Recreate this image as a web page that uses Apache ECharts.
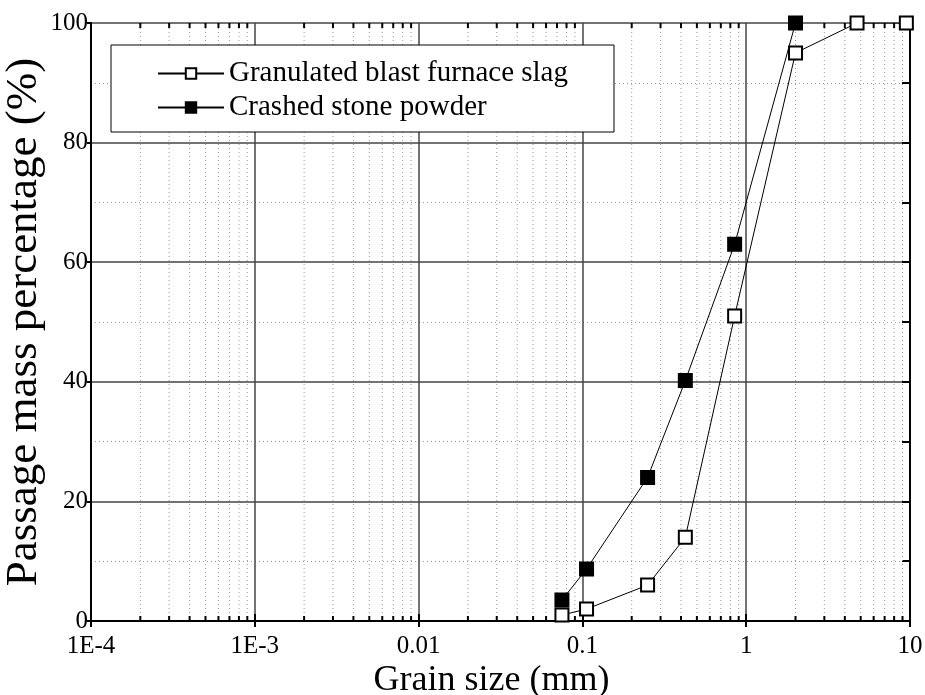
<!DOCTYPE html>
<html>
<head>
<meta charset="utf-8">
<title>Grain size distribution</title>
<script src="https://cdn.jsdelivr.net/npm/echarts@6/dist/echarts.min.js"></script>
<style>
  html, body { margin: 0; padding: 0; background: #fff; }
  #chart { width: 925px; height: 695px; }
</style>
</head>
<body>
<div id="chart"></div>
<script>
// grain sizes (mm) and passing percentages
const slagSize = [0.075, 0.106, 0.25, 0.425, 0.85, 2.0, 4.75, 9.5]
const slagPass = [1, 2, 6, 14, 51, 95, 100, 100]
const stoneSize = [0.075, 0.106, 0.25, 0.425, 0.85, 2.0]
const stonePass = [3.5, 8.7, 24, 40.2, 63, 100]

const xTickLabels = { '-4': '1E-4', '-3': '1E-3', '-2': '0.01', '-1': '0.1', '0': '1', '1': '10' }

// minor log positions 2..9 in each decade, for dotted grid + ticks
const minorX = []
for (let e = -4; e < 1; e++) {
  for (let m = 2; m <= 9; m++) minorX.push(+(m * Math.pow(10, e)).toPrecision(3))
}

const font = 'Liberation Serif'
const gridColor = '#444'
const chart = echarts.init(document.getElementById('chart'))

chart.setOption({
  animation: false,
  textStyle: { fontFamily: font, color: '#000' },
  grid: { left: 91, right: 15, top: 23, bottom: 74, outerBoundsMode: 'none', containLabel: false },
  legend: {
    data: ['Granulated blast furnace slag', 'Crashed stone powder'],
    orient: 'vertical',
    left: 111,
    top: 45,
    padding: [14, 46, 10, 46],
    itemGap: 5,
    itemWidth: 66,
    itemHeight: 13,
    backgroundColor: '#fff',
    borderColor: '#000',
    borderWidth: 1,
    textStyle: { fontFamily: font, fontSize: 29, lineHeight: 29, color: '#000' }
  },
  xAxis: [
    {
      type: 'log',
      logBase: 10,
      min: 1e-4,
      max: 10,
      name: 'Grain size (mm)',
      nameLocation: 'middle',
      nameGap: 42,
      nameMoveOverlap: false,
      nameTextStyle: { fontFamily: font, fontSize: 36, color: '#000', padding: [0, 18, 0, 0] },
      axisLine: { lineStyle: { color: '#000', width: 2 } },
      axisTick: { inside: true, length: 7, lineStyle: { color: '#000', width: 2 } },
      axisLabel: {
        fontFamily: font,
        fontSize: 25,
        color: '#000',
        margin: 13,
        formatter: v => xTickLabels[Math.round(Math.log10(v))] || ''
      },
      splitLine: { show: true, lineStyle: { color: gridColor, width: 1.5 } }
    },
    {
      type: 'log',
      logBase: 10,
      min: 1e-4,
      max: 10,
      position: 'top',
      axisLine: { show: true, lineStyle: { color: '#000', width: 2 } },
      axisTick: { inside: true, length: 6, lineStyle: { color: '#000', width: 2 } },
      axisLabel: { show: false },
      splitLine: { show: false }
    }
  ],
  yAxis: [
    {
      type: 'value',
      min: 0,
      max: 100,
      interval: 20,
      name: 'Passage mass percentage (%)',
      nameLocation: 'middle',
      nameGap: 44,
      nameMoveOverlap: false,
      nameTextStyle: { fontFamily: font, fontSize: 45, color: '#000' },
      axisLine: { show: true, lineStyle: { color: '#000', width: 2 } },
      axisTick: { show: true, length: 4, lineStyle: { color: '#000', width: 2 } },
      axisLabel: { fontFamily: font, fontSize: 25, color: '#000', margin: 3 },
      splitLine: { show: true, lineStyle: { color: gridColor, width: 1.5 } },
      minorTick: { show: false, splitNumber: 2 },
      minorSplitLine: { show: true, lineStyle: { color: '#999', width: 1, type: [1, 3] } }
    },
    {
      type: 'value',
      min: 0,
      max: 100,
      interval: 20,
      position: 'right',
      axisLine: { show: true, lineStyle: { color: '#000', width: 2 } },
      axisTick: { show: true, inside: true, length: 8, lineStyle: { color: '#000', width: 2 } },
      minorTick: { show: true, splitNumber: 2, length: 8, lineStyle: { color: '#000', width: 2 } },
      axisLabel: { show: false },
      splitLine: { show: false }
    }
  ],
  series: [
    {
      name: 'minor',
      type: 'custom',
      silent: true,
      z: 1,
      data: minorX.map(v => [v, 0]),
      encode: { x: 0, y: 1 },
      renderItem(params, api) {
        const v = api.value(0)
        const b = api.coord([v, 0])
        const t = api.coord([v, 100])
        return {
          type: 'group',
          children: [
            {
              type: 'line',
              shape: { x1: b[0], y1: b[1], x2: t[0], y2: t[1] },
              style: { stroke: '#999', lineWidth: 1, lineDash: [1, 3] }
            },
            {
              type: 'line',
              shape: { x1: b[0], y1: b[1], x2: b[0], y2: b[1] - 5 },
              style: { stroke: '#000', lineWidth: 2 }
            },
            {
              type: 'line',
              shape: { x1: t[0], y1: t[1], x2: t[0], y2: t[1] + 5 },
              style: { stroke: '#000', lineWidth: 2 }
            }
          ]
        }
      }
    },
    {
      name: 'Granulated blast furnace slag',
      type: 'line',
      z: 3,
      data: slagSize.map((s, i) => [s, slagPass[i]]),
      symbol: 'rect',
      symbolSize: 13,
      lineStyle: { color: '#000', width: 1 },
      itemStyle: { color: '#fff', borderColor: '#000', borderWidth: 2 }
    },
    {
      name: 'Crashed stone powder',
      type: 'line',
      z: 3,
      data: stoneSize.map((s, i) => [s, stonePass[i]]),
      symbol: 'rect',
      symbolSize: 13,
      lineStyle: { color: '#000', width: 1 },
      itemStyle: { color: '#000', borderColor: '#000', borderWidth: 2 }
    }
  ]
})
</script>
</body>
</html>
